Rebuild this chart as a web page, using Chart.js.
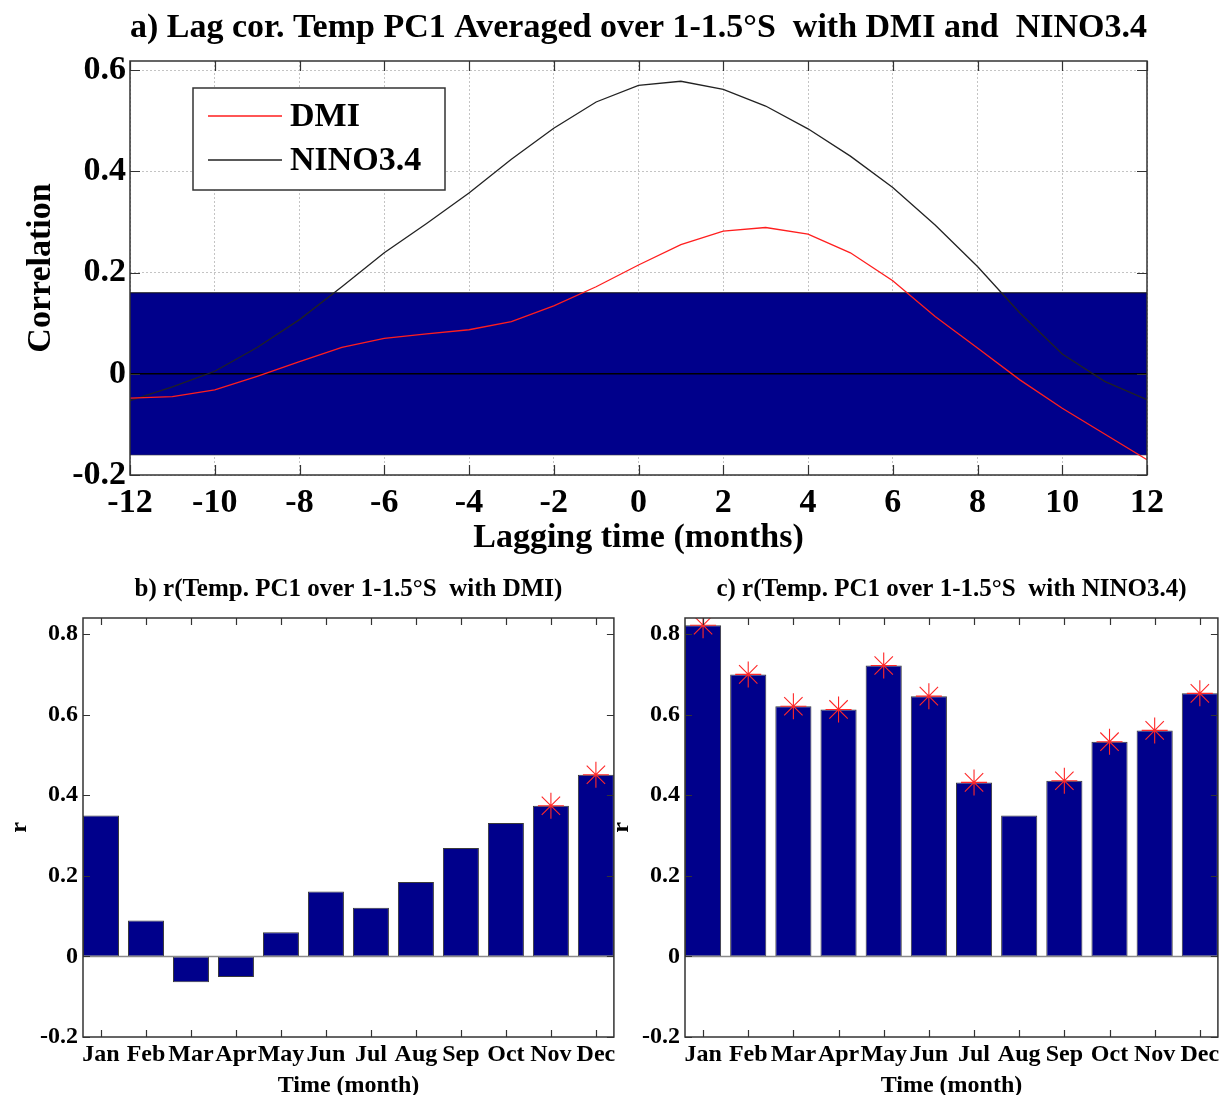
<!DOCTYPE html>
<html>
<head>
<meta charset="utf-8">
<title>Lag correlation of Temp PC1 with DMI and NINO3.4</title>
<script src="https://cdn.jsdelivr.net/npm/chart.js@4.4.1/dist/chart.umd.min.js"></script>
<style>
  html, body { margin: 0; padding: 0; background: #fff; }
  #figure { position: relative; width: 1225px; height: 1095px; overflow: hidden; background: #fff; }
  #figure canvas { position: absolute; }
</style>
</head>
<body>
<div id="figure">
  <canvas id="lagChart" width="1225" height="560" style="left:0;top:0"></canvas>
  <canvas id="dmiChart" width="628" height="545" style="left:0;top:560px"></canvas>
  <canvas id="ninoChart" width="627" height="545" style="left:605px;top:560px"></canvas>
</div>
<script>
// ---- panel a: lagged correlation, lag in months ----
const lags = [-12, -11, -10, -9, -8, -7, -6, -5, -4, -3, -2, -1, 0, 1, 2, 3, 4, 5, 6, 7, 8, 9, 10, 11, 12];
const dmiLag = [-0.048, -0.045, -0.032, -0.005, 0.024, 0.052, 0.070, 0.079, 0.087, 0.103, 0.134, 0.172,
                0.215, 0.255, 0.282, 0.289, 0.276, 0.239, 0.184, 0.113, 0.051, -0.012, -0.068, -0.119, -0.170];
const ninoLag = [-0.053, -0.026, 0.005, 0.052, 0.107, 0.172, 0.239, 0.297, 0.357, 0.424, 0.485, 0.537,
                 0.570, 0.578, 0.562, 0.529, 0.484, 0.430, 0.368, 0.294, 0.212, 0.120, 0.039, -0.015, -0.051];
const sigLevel = 0.16;                // 95% significance band (+/-)
const lagRange = [-12, 12];
const lagTicks = [-12, -10, -8, -6, -4, -2, 0, 2, 4, 6, 8, 10, 12];
const corrTicks = [-0.2, 0, 0.2, 0.4, 0.6];
const corrTickLabels = ['-0.2', '0', '0.2', '0.4', '0.6'];

// ---- panels b, c: correlation by calendar month ----
const months = ['Jan', 'Feb', 'Mar', 'Apr', 'May', 'Jun', 'Jul', 'Aug', 'Sep', 'Oct', 'Nov', 'Dec'];
const dmiMonthly = [0.350, 0.089, -0.064, -0.051, 0.060, 0.161, 0.121, 0.185, 0.269, 0.331, 0.374, 0.451];
const dmiSignificant = [false, false, false, false, false, false, false, false, false, false, true, true];
const ninoMonthly = [0.822, 0.700, 0.621, 0.613, 0.722, 0.646, 0.432, 0.350, 0.436, 0.533, 0.561, 0.653];
const ninoSignificant = [true, true, true, true, true, true, true, false, true, true, true, true];
const monthPositions = [1, 2, 3, 4, 5, 6, 7, 8, 9, 10, 11, 12];
const rTicks = [-0.2, 0, 0.2, 0.4, 0.6, 0.8];
const rTickLabels = ['-0.2', '0', '0.2', '0.4', '0.6', '0.8'];

const SERIF = '"Liberation Serif", "Times New Roman", Times, serif';
const NAVY = 'rgb(0,0,139)';

// Box around the plot area with short inward tick marks on all four sides.
const boxTicks = {
  id: 'boxTicks',
  afterDatasetsDraw(chart, args, o) {
    const { ctx, chartArea: a, scales: { x, y } } = chart;
    const len = o.len;
    ctx.save();
    ctx.strokeStyle = o.color;
    ctx.lineWidth = o.width;
    ctx.beginPath();
    x.ticks.forEach(t => {
      const px = Math.round(x.getPixelForValue(t.value)) + 0.5;
      ctx.moveTo(px, a.bottom); ctx.lineTo(px, a.bottom - len);
      ctx.moveTo(px, a.top); ctx.lineTo(px, a.top + len);
    });
    y.ticks.forEach(t => {
      const py = Math.round(y.getPixelForValue(t.value)) + 0.5;
      ctx.moveTo(a.left, py); ctx.lineTo(a.left + len, py);
      ctx.moveTo(a.right, py); ctx.lineTo(a.right - len, py);
    });
    ctx.stroke();
    ctx.lineWidth = o.frameWidth;
    ctx.strokeRect(a.left, a.top, a.right - a.left, a.bottom - a.top);
    ctx.restore();
  }
};

// Boxed legend placed inside the plot area.
const boxLegend = {
  id: 'boxLegend',
  afterDraw(chart, args, o) {
    if (!o.display) return;
    const ctx = chart.ctx;
    const items = chart.data.datasets.filter(d => d.inLegend);
    ctx.save();
    ctx.fillStyle = '#fff';
    ctx.fillRect(o.x, o.y, o.w, o.h);
    ctx.strokeStyle = '#333';
    ctx.lineWidth = 1.5;
    ctx.strokeRect(o.x, o.y, o.w, o.h);
    items.forEach((d, i) => {
      const cy = o.y + o.first + i * o.step;
      ctx.strokeStyle = d.borderColor;
      ctx.lineWidth = d.borderWidth;
      ctx.beginPath();
      ctx.moveTo(o.x + o.lineStart, cy);
      ctx.lineTo(o.x + o.lineEnd, cy);
      ctx.stroke();
      ctx.fillStyle = '#000';
      ctx.font = 'bold ' + o.fontSize + 'px ' + SERIF;
      ctx.textBaseline = 'middle';
      ctx.textAlign = 'left';
      ctx.fillText(d.label, o.x + o.textStart, cy + 1);
    });
    ctx.restore();
  }
};

const fontA = { family: SERIF, size: 34, weight: 'bold' };

new Chart(document.getElementById('lagChart'), {
  type: 'line',
  data: {
    datasets: [
      { label: 'DMI', inLegend: true, data: lags.map((x, i) => ({ x, y: dmiLag[i] })),
        borderColor: '#ff1e1e', borderWidth: 1.3, pointRadius: 0, fill: false, tension: 0, order: 0 },
      { label: 'NINO3.4', inLegend: true, data: lags.map((x, i) => ({ x, y: ninoLag[i] })),
        borderColor: '#222', borderWidth: 1.3, pointRadius: 0, fill: false, tension: 0, order: 1 },
      { label: 'zero', data: lagRange.map(x => ({ x, y: 0 })),
        borderColor: '#000', borderWidth: 1.5, pointRadius: 0, fill: false, order: 2 },
      { label: 'upper', data: lagRange.map(x => ({ x, y: sigLevel })),
        borderColor: '#111', borderWidth: 1, pointRadius: 0, backgroundColor: NAVY,
        fill: { value: -sigLevel }, order: 3 },
      { label: 'lower', data: lagRange.map(x => ({ x, y: -sigLevel })),
        borderColor: '#111', borderWidth: 1, pointRadius: 0, fill: false, order: 3 }
    ]
  },
  options: {
    responsive: false, animation: false, events: [],
    layout: { padding: { left: 0, right: 78, top: 0, bottom: 0 } },
    plugins: {
      legend: { display: false },
      tooltip: { enabled: false },
      title: {
        display: true, fullSize: false, color: '#000', font: fontA,
        text: 'a) Lag cor. Temp PC1 Averaged over 1-1.5°S  with DMI and  NINO3.4',
        padding: { top: 8, bottom: 12.2 }
      },
      boxTicks: { len: 10, color: '#333', width: 1.2, frameWidth: 1.5 },
      boxLegend: { display: true, x: 193, y: 88, w: 252, h: 102, first: 28, step: 44,
                   lineStart: 15, lineEnd: 89, textStart: 97, fontSize: 34 }
    },
    scales: {
      x: {
        type: 'linear', min: lagRange[0], max: lagRange[1], offset: false,
        afterBuildTicks: s => { s.ticks = lagTicks.map(v => ({ value: v })); },
        afterFit: s => { s.height = 85; },
        ticks: { color: '#000', font: fontA, padding: 8, maxRotation: 0, autoSkip: false,
                 callback: v => String(v) },
        grid: { color: '#c4c4c4', lineWidth: 1, drawTicks: false },
        border: { display: false, dash: [2, 2] },
        title: { display: true, text: 'Lagging time (months)', color: '#000', font: fontA,
                 padding: { top: 0, bottom: 1 } }
      },
      y: {
        type: 'linear', min: -0.2, max: 0.618,
        afterBuildTicks: s => { s.ticks = corrTicks.map(v => ({ value: v })); },
        afterFit: s => { s.width = 130; },
        ticks: { color: '#000', font: fontA, padding: 4, autoSkip: false,
                 callback: (v, i) => corrTickLabels[i] },
        grid: { color: '#c4c4c4', lineWidth: 1, drawTicks: false },
        border: { display: false, dash: [2, 2] },
        title: { display: true, text: 'Correlation', color: '#000', font: fontA,
                 padding: { top: 20.6, bottom: 0 } }
      }
    }
  },
  plugins: [boxTicks, boxLegend]
});

const fontB = { family: SERIF, size: 24, weight: 'bold' };

function monthlyChart(canvasId, titleText, values, significant, axisWidth, rightPad, rTitlePad) {
  const stars = [];
  values.forEach((v, i) => { if (significant[i]) stars.push({ x: monthPositions[i], y: v }); });
  return new Chart(document.getElementById(canvasId), {
    type: 'bar',
    data: {
      datasets: [
        { type: 'scatter', label: 'significant', data: stars, pointStyle: 'star', pointRadius: 13,
          pointBorderColor: 'rgb(255,40,40)', pointBackgroundColor: 'rgba(0,0,0,0)',
          pointBorderWidth: 1.1, order: 0 },
        { type: 'line', label: 'baseline', data: [{ x: 0.6, y: 0 }, { x: 12.4, y: 0 }],
          borderColor: '#8a8a8a', borderWidth: 1.5, pointRadius: 0, fill: false, order: 1 },
        { type: 'bar', label: 'r', data: values.map((v, i) => ({ x: monthPositions[i], y: v })),
          backgroundColor: NAVY, borderColor: '#3a3a3a', borderWidth: 1, borderSkipped: false,
          categoryPercentage: 1, barPercentage: 0.8, order: 2 }
      ]
    },
    options: {
      responsive: false, animation: false, events: [],
      layout: { padding: { left: 0, right: rightPad, top: 0, bottom: 0 } },
      plugins: {
        legend: { display: false },
        tooltip: { enabled: false },
        title: {
          display: true, fullSize: false, color: '#000',
          font: { family: SERIF, size: 25, weight: 'bold' },
          text: titleText, padding: { top: 15, bottom: 13 }
        },
        boxTicks: { len: 7, color: '#333', width: 1.2, frameWidth: 1.5 },
        boxLegend: { display: false }
      },
      scales: {
        x: {
          type: 'linear', min: 0.6, max: 12.4, offset: false,
          afterBuildTicks: s => { s.ticks = monthPositions.map(v => ({ value: v })); },
          afterFit: s => { s.height = 68; },
          ticks: { color: '#000', font: fontB, padding: 3.6, maxRotation: 0, minRotation: 0,
                   autoSkip: false, callback: (v, i) => months[i] },
          grid: { display: false, drawTicks: false, offset: false },
          border: { display: false },
          title: { display: true, text: 'Time (month)', color: '#000', font: fontB,
                   padding: { top: 0, bottom: 4.6 } }
        },
        y: {
          type: 'linear', min: -0.2, max: 0.84,
          afterBuildTicks: s => { s.ticks = rTicks.map(v => ({ value: v })); },
          afterFit: s => { s.width = axisWidth; },
          ticks: { color: '#000', font: fontB, padding: 5, autoSkip: false,
                   callback: (v, i) => rTickLabels[i] },
          grid: { display: false, drawTicks: false },
          border: { display: false },
          title: { display: true, text: 'r', color: '#000', font: fontB,
                   padding: { top: rTitlePad, bottom: 0 } }
        }
      }
    },
    plugins: [boxTicks, boxLegend]
  });
}

monthlyChart('dmiChart', 'b) r(Temp. PC1 over 1-1.5°S  with DMI)', dmiMonthly, dmiSignificant, 83, 6, 5.6);
monthlyChart('ninoChart', 'c) r(Temp. PC1 over 1-1.5°S  with NINO3.4)', ninoMonthly, ninoSignificant, 80, 7, 2.6);
</script>
</body>
</html>
